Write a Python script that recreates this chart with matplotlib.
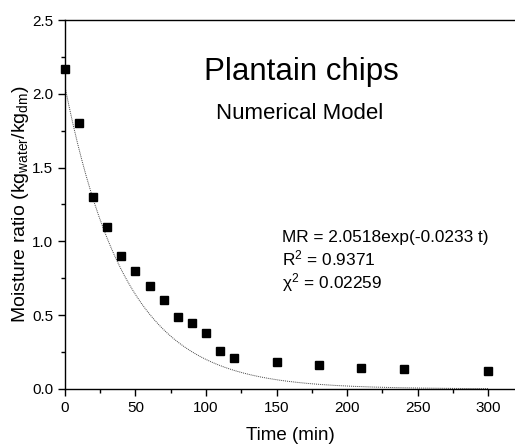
import numpy as np
import matplotlib
matplotlib.use("Agg")
import matplotlib.pyplot as plt
from matplotlib.ticker import MultipleLocator

plt.rcParams['font.family'] = ['Liberation Sans', 'DejaVu Sans']
plt.rcParams['mathtext.fontset'] = 'custom'
plt.rcParams['mathtext.rm'] = 'Liberation Sans'
plt.rcParams['mathtext.it'] = 'Liberation Sans'

time_min = [0, 10, 20, 30, 40, 50, 60, 70, 80, 90, 100, 110, 120, 150, 180, 210, 240, 300]
moisture_ratio = [2.17, 1.80, 1.30, 1.10, 0.90, 0.80, 0.70, 0.60, 0.49, 0.45, 0.38, 0.26, 0.21,
                  0.18, 0.16, 0.14, 0.135, 0.12]
model_a = 2.0518
model_k = 0.0233

fig = plt.figure(figsize=(5.15, 4.46), dpi=100)
ax = fig.add_axes([0.126, 0.128, 0.874, 0.827])

t = np.linspace(0, 300, 400)
ax.plot(t, model_a * np.exp(-model_k * t), linestyle=(0, (1, 1)), color='#444444', linewidth=0.7)
ax.plot(time_min, moisture_ratio, 's', color='black', markersize=5.8, clip_on=False, zorder=3)

ax.set_xlim(0, 319)
ax.set_ylim(0, 2.5)
ax.xaxis.set_major_locator(MultipleLocator(50))
ax.xaxis.set_minor_locator(MultipleLocator(25))
ax.yaxis.set_minor_locator(MultipleLocator(0.25))
ax.set_yticks([0, 0.5, 1.0, 1.5, 2.0, 2.5])
ax.set_yticklabels(['0.0', '0.5', '1.0', '1.5', '2.0', '2.5'])
ax.tick_params(which='major', direction='out', length=5, width=1, labelsize=11)
ax.tick_params(which='minor', direction='out', length=3, width=1)
ax.spines['right'].set_visible(False)
for s in ['left', 'bottom', 'top']:
    ax.spines[s].set_linewidth(1.0)

ax.set_xlabel('Time (min)', fontsize=13.5, labelpad=9)
ax.set_ylabel('Moisture ratio (kg$_{\\mathrm{water}}$/kg$_{\\mathrm{dm}}$)', fontsize=14, labelpad=1)

ax.text(0.5256, 0.859, 'Plantain chips', transform=ax.transAxes, ha='center', va='center', fontsize=22.5)
ax.text(0.522, 0.748, 'Numerical Model', transform=ax.transAxes, ha='center', va='center', fontsize=16)
ax.text(0.482, 0.344, 'MR = 2.0518exp(-0.0233 t)\nR$^2$ = 0.9371\n$\\chi^2$ = 0.02259',
        transform=ax.transAxes, ha='left', va='center', fontsize=12.4, linespacing=1.2)

fig.savefig('out.png', dpi=100)
